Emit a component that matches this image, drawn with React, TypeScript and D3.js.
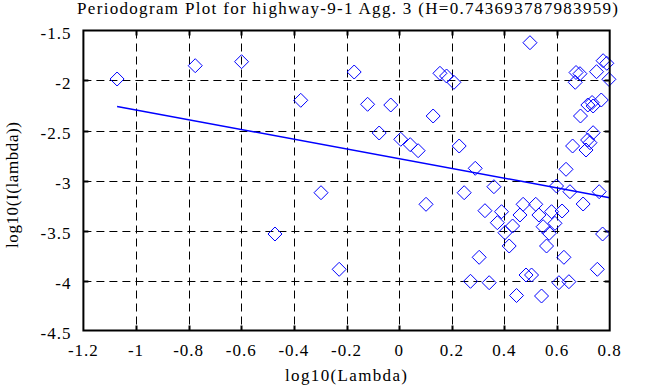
import React, { useEffect, useRef } from 'react';
import * as d3 from 'd3';

// log10(Lambda) values of the periodogram points
const lambdaX = [
  -1.072, -0.775, -0.599, -0.374, -0.297, -0.472, -0.228, -0.171, -0.12, -0.076,
  -0.032, 0.006, 0.042, 0.072, 0.102, 0.129, 0.155, 0.18, 0.208, 0.228,
  0.247, 0.271, 0.289, 0.304, 0.326, 0.342, 0.36, 0.373, 0.389, 0.402,
  0.418, 0.431, 0.446, 0.459, 0.471, 0.482, 0.497, 0.503, 0.519, 0.531,
  0.541, 0.547, 0.56, 0.57, 0.579, 0.592, 0.598, 0.607, 0.619, 0.626,
  0.634, 0.645, 0.649, 0.659, 0.669, 0.672, 0.687, 0.689, 0.699, 0.71,
  0.716, 0.717, 0.725, 0.733, 0.737, 0.737, 0.75, 0.753, 0.76, 0.768,
  0.773, 0.775, 0.789, 0.797,
];
// log10(I(lambda)) values
const intensityY = [
  -1.985, -1.852, -1.812, -2.198, -3.122, -3.535, -3.888, -1.915, -2.238, -2.525,
  -2.245, -2.588, -2.642, -2.702, -3.238, -2.355, -1.928, -1.955, -2.018, -2.655,
  -3.122, -4.008, -2.878, -3.768, -3.302, -4.022, -3.062, -3.422, -3.312, -3.522,
  -3.655, -3.455, -4.15, -3.345, -3.238, -3.945, -1.622, -3.945, -3.238, -3.345,
  -4.155, -3.462, -3.655, -3.528, -3.312, -3.428, -3.055, -4.022, -3.305, -3.768,
  -2.888, -4.012, -3.112, -2.655, -2.018, -1.92, -1.932, -2.355, -3.235, -2.695,
  -2.595, -2.245, -2.622, -2.22, -2.255, -2.522, -1.912, -3.888, -3.112, -2.195,
  -3.535, -1.802, -1.828, -1.988,
];

const xTicks = [-1.2, -1, -0.8, -0.6, -0.4, -0.2, 0, 0.2, 0.4, 0.6, 0.8];
const yTicks = [-4.5, -4, -3.5, -3, -2.5, -2, -1.5];

// least squares fit, slope = 1 - 2H
const H = 0.743693787983959;
const fitSlope = 1 - 2 * H;
const fitIntercept = -2.782;
const fitRange = [-1.072, 0.8];

const App: React.FC = () => {
  const svgRef = useRef<SVGSVGElement>(null);

  useEffect(() => {
    const svg = d3.select(svgRef.current);
    svg.selectAll('*').remove();

    const left = 83.4, right = 609.7, top = 30.5, bottom = 330.5;
    const font = '"Liberation Serif", "DejaVu Serif", serif';

    const x = d3.scaleLinear().domain([-1.2, 0.8]).range([left, right]);
    const y = d3.scaleLinear().domain([-4.5, -1.5]).range([bottom, top]);

    svg.append('rect').attr('width', 658).attr('height', 387).attr('fill', '#fff');

    // grid
    const grid = svg.append('g').attr('stroke', '#000').attr('stroke-width', 1)
      .attr('stroke-dasharray', '8,5');
    grid.selectAll('.gx').data(xTicks.slice(1, -1)).enter().append('line')
      .attr('x1', d => Math.round(x(d)) + 0.5).attr('x2', d => Math.round(x(d)) + 0.5)
      .attr('y1', top).attr('y2', bottom);
    grid.selectAll('.gy').data(yTicks.slice(1, -1)).enter().append('line')
      .attr('y1', d => Math.round(y(d)) + 0.5).attr('y2', d => Math.round(y(d)) + 0.5)
      .attr('x1', left).attr('x2', right);

    // short ticks on the frame
    const ticks = svg.append('g').attr('stroke', '#000').attr('stroke-width', 2);
    xTicks.slice(1, -1).forEach(t => {
      const px = Math.round(x(t)) + 0.5;
      ticks.append('line').attr('x1', px).attr('x2', px).attr('y1', top).attr('y2', top + 5);
      ticks.append('line').attr('x1', px).attr('x2', px).attr('y1', bottom).attr('y2', bottom - 5);
    });
    yTicks.slice(1, -1).forEach(t => {
      const py = Math.round(y(t)) + 0.5;
      ticks.append('line').attr('x1', left).attr('x2', left + 5).attr('y1', py).attr('y2', py);
      ticks.append('line').attr('x1', right).attr('x2', right - 5).attr('y1', py).attr('y2', py);
    });

    // points
    const pts = lambdaX.map((lx, i) => ({ lx, ly: intensityY[i] }));
    const r = 7;
    svg.append('g').selectAll('path').data(pts).enter().append('path')
      .attr('d', d => {
        const cx = x(d.lx), cy = y(d.ly);
        return `M${cx},${cy - r}L${cx + r},${cy}L${cx},${cy + r}L${cx - r},${cy}Z`;
      })
      .attr('fill', 'none').attr('stroke', '#0000ff').attr('stroke-width', 1);

    // fit line
    const line = d3.line<number>().x(d => x(d)).y(d => y(fitIntercept + fitSlope * d));
    svg.append('path').attr('d', line(fitRange)).attr('fill', 'none')
      .attr('stroke', '#0000ff').attr('stroke-width', 1.5);

    // frame
    svg.append('rect').attr('x', left).attr('y', top)
      .attr('width', right - left).attr('height', bottom - top)
      .attr('fill', 'none').attr('stroke', '#000').attr('stroke-width', 2);

    // tick labels
    svg.append('g').selectAll('text').data(xTicks).enter().append('text')
      .attr('x', d => x(d)).attr('y', 356)
      .attr('text-anchor', 'middle').attr('font-family', font).attr('font-size', 17)
      .attr('letter-spacing', 1)
      .text(d => String(d));
    svg.append('g').selectAll('text').data(yTicks).enter().append('text')
      .attr('x', left - 12).attr('y', d => y(d) + 8)
      .attr('text-anchor', 'end').attr('font-family', font).attr('font-size', 17)
      .attr('letter-spacing', 1)
      .text(d => String(d));

    // titles
    svg.append('text').attr('x', 347.5).attr('y', 14).attr('text-anchor', 'middle')
      .attr('font-family', font).attr('font-size', 17)
      .attr('textLength', 541).attr('lengthAdjust', 'spacing')
      .text(`Periodogram Plot for highway-9-1 Agg. 3 (H=${H})`);
    svg.append('text').attr('x', 346).attr('y', 381).attr('text-anchor', 'middle')
      .attr('font-family', font).attr('font-size', 17)
      .attr('textLength', 122).attr('lengthAdjust', 'spacing').text('log10(Lambda)');
    svg.append('text').attr('transform', 'translate(18,185) rotate(-90)')
      .attr('text-anchor', 'middle').attr('font-family', font).attr('font-size', 17)
      .attr('textLength', 126).attr('lengthAdjust', 'spacing')
      .text('log10(I(lambda))');
  }, []);

  return (
    <svg ref={svgRef} width={658} height={387}
      style={{ position: 'absolute', left: 0, top: 0, display: 'block' }} />
  );
};

export default App;
